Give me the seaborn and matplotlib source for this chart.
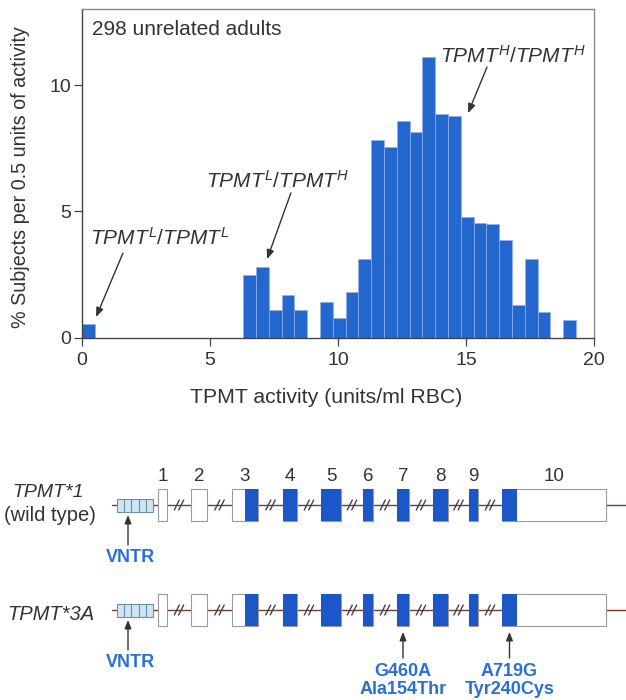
import numpy as np
import pandas as pd
import matplotlib
matplotlib.use('Agg')
import matplotlib.pyplot as plt
import seaborn as sns
from matplotlib.patches import Rectangle

sns.set_style('white')
plt.rcParams['font.family'] = ['Liberation Sans', 'DejaVu Sans']
plt.rcParams['mathtext.fontset'] = 'custom'
plt.rcParams['mathtext.it'] = 'Liberation Sans:italic'
plt.rcParams['mathtext.rm'] = 'Liberation Sans'

# --- histogram data: left edge of each 0.5-unit bin, % of subjects ---
BIN_LEFT = [0.0, 6.3, 6.8, 7.3, 7.8, 8.3, 8.8, 9.3, 9.8, 10.3, 10.8, 11.3, 11.8,
            12.3, 12.8, 13.3, 13.8, 14.3, 14.8, 15.3, 15.8, 16.3, 16.8, 17.3,
            17.8, 18.3, 18.8]
PCT = [0.53, 2.48, 2.81, 1.10, 1.70, 1.10, 0.0, 1.42, 0.77, 1.80, 3.10, 7.82, 7.53,
       8.56, 8.15, 11.10, 8.85, 8.77, 4.79, 4.53, 4.50, 3.85, 1.30, 3.11,
       1.03, 0.0, 0.70]
BIN_WIDTH = 0.5
X_TICKS = [0, 5, 10, 15, 20]
Y_TICKS = [0, 5, 10]

# --- gene diagram data (schematic units) ---
EXON_NAMES = ['1', '2', '3', '4', '5', '6', '7', '8', '9', '10']
EXON_START = [158, 191, 232, 283, 321, 363, 397, 433, 469, 502]
EXON_END = [167, 207, 258, 297, 341, 373, 409, 448, 478, 606]
CODING_START = [np.nan, np.nan, 245, 283, 321, 363, 397, 433, 469, 502]
CODING_END = [np.nan, np.nan, 258, 297, 341, 373, 409, 448, 478, 517]
VNTR_SPAN = (117, 153)
VNTR_REPEATS = 5
GENE_SPAN = (112, 626)
MUT_EXON = ['7', '10']
MUT_NT = ['G460A', 'A719G']
MUT_AA = ['Ala154Thr', 'Tyr240Cys']

BAR_BLUE = '#2467cf'
EXON_BLUE = '#1c57c8'
LABEL_BLUE = '#2a6fd4'
INK = '#333333'

fig = plt.figure(figsize=(6.26, 7.0), dpi=100)

# ---------------- histogram ----------------
ax = fig.add_axes([82 / 626, 1 - 337.7 / 700, 512 / 626, 328.4 / 700])
left = np.array(BIN_LEFT)
edges = np.unique(np.round(np.concatenate([left, left + BIN_WIDTH]), 2)).tolist()
hist_df = pd.DataFrame({'activity': left + BIN_WIDTH / 2, 'pct': PCT})
sns.histplot(data=hist_df, x='activity', weights='pct', bins=edges, stat='count',
             color=BAR_BLUE, edgecolor='#8db2ea', linewidth=0.5, alpha=1, ax=ax)
ax.set_xlim(0, 20)
ax.set_ylim(0, 13.0)
ax.set_xticks(X_TICKS)
ax.set_yticks(Y_TICKS)
ax.tick_params(direction='out', length=5.5, width=0.9, colors='#444444',
               labelcolor=INK, labelsize=14)
ax.tick_params(axis='x', pad=5)
ax.tick_params(axis='y', pad=1.5, length=6)
ax.tick_params(bottom=True, left=True)
for side in ['left', 'bottom']:
    ax.spines[side].set_color('#444444')
    ax.spines[side].set_linewidth(1.0)
for side in ['top', 'right']:
    ax.spines[side].set_color('#8a8a8a')
    ax.spines[side].set_linewidth(1.0)

ax.set_xlabel('TPMT activity (units/ml RBC)', fontsize=15.3, color=INK)
ax.xaxis.set_label_coords(0.4775, -0.152)
ax.set_ylabel('% Subjects per 0.5 units of activity', fontsize=14.2, color=INK)
ax.yaxis.set_label_coords(-0.102, 0.49)

ax.text(0.0195, 0.921, '298 unrelated adults', transform=ax.transAxes,
        fontsize=15, color=INK, va='baseline', ha='left')

arrow_kw = dict(arrowstyle='-|>,head_length=0.55,head_width=0.22',
                lw=1.0, color=INK, shrinkA=0, shrinkB=0)
genotype_notes = [
    (r'$TPMT^{L}/TPMT^{L}$', (3.03, 3.67), (1.60, 3.35), (0.55, 0.82)),
    (r'$TPMT^{L}/TPMT^{H}$', (7.64, 5.92), (8.16, 5.73), (7.23, 3.11)),
    (r'$TPMT^{H}/TPMT^{H}$', (16.82, 10.87), (15.82, 10.71), (15.08, 8.89)),
]
for label, txy, tail, head in genotype_notes:
    ax.text(txy[0], txy[1], label, fontsize=15, color=INK,
            ha='center', va='baseline')
    ax.annotate('', xy=head, xytext=tail, arrowprops=arrow_kw)

# ---------------- gene diagram ----------------
gx = fig.add_axes([0, 0, 1, 260 / 700])
gx.set_xlim(0, 626)
gx.set_ylim(700, 440)
gx.axis('off')

exon_h = 32
small_arrow = dict(arrowstyle='-|>,head_length=0.5,head_width=0.2',
                   lw=1.0, color=INK, shrinkA=0, shrinkB=0)


def draw_gene(yc, mutations):
    gx.plot(GENE_SPAN, [yc, yc], color='#7a3b2e', lw=1.0, zorder=1)
    # intron breaks
    for e0, s1 in zip(EXON_END[:-1], EXON_START[1:]):
        cx = (e0 + s1) / 2
        for dx in (-2.2, 2.2):
            gx.plot([cx + dx - 2.5, cx + dx + 2.5], [yc + 5, yc - 5],
                    color='#444444', lw=1.0, zorder=3)
    # VNTR repeats
    v0, v1 = VNTR_SPAN
    cell = (v1 - v0) / VNTR_REPEATS
    for i in range(VNTR_REPEATS):
        gx.add_patch(Rectangle((v0 + i * cell, yc - 6.5), cell, 13,
                               facecolor='#cfe5f4', edgecolor='#6f8ea6',
                               lw=0.8, zorder=2))
    # exons
    for s, e, cs, ce in zip(EXON_START, EXON_END, CODING_START, CODING_END):
        gx.add_patch(Rectangle((s, yc - exon_h / 2), e - s, exon_h,
                               facecolor='white', edgecolor='#9a9a9a',
                               lw=0.8, zorder=2))
        if not np.isnan(cs):
            gx.add_patch(Rectangle((cs, yc - exon_h / 2), ce - cs, exon_h,
                                   facecolor=EXON_BLUE, edgecolor='none',
                                   zorder=2.5))
    # VNTR arrow + label
    vx = v0 + 11
    gx.annotate('', xy=(vx, yc + 10), xytext=(vx, yc + 40),
                arrowprops=small_arrow)
    gx.text(130, yc + 57, 'VNTR', fontsize=13, fontweight='bold',
            color=LABEL_BLUE, ha='center', va='baseline')
    for ex, nt, aa in mutations:
        i = EXON_NAMES.index(ex)
        mx = (CODING_START[i] + CODING_END[i]) / 2
        gx.annotate('', xy=(mx, yc + 22), xytext=(mx, yc + 48),
                    arrowprops=small_arrow)
        gx.text(mx, yc + 66, nt, fontsize=13, fontweight='bold',
                color=LABEL_BLUE, ha='center', va='baseline')
        gx.text(mx, yc + 84.5, aa, fontsize=13, fontweight='bold',
                color=LABEL_BLUE, ha='center', va='baseline')


row1, row2 = 505, 610
draw_gene(row1, [])
draw_gene(row2, list(zip(MUT_EXON, MUT_NT, MUT_AA)))

for name, s, e in zip(EXON_NAMES, EXON_START, EXON_END):
    gx.text((s + e) / 2, 481, name, fontsize=13.5, color=INK,
            ha='center', va='baseline')

gx.text(48, 497, 'TPMT*1', fontsize=14, style='italic', color=INK,
        ha='center', va='baseline')
gx.text(50, 521, '(wild type)', fontsize=14.5, color=INK,
        ha='center', va='baseline')
gx.text(51, 620, 'TPMT*3A', fontsize=14.5, style='italic', color=INK,
        ha='center', va='baseline')

fig.savefig('out.png', dpi=100)
